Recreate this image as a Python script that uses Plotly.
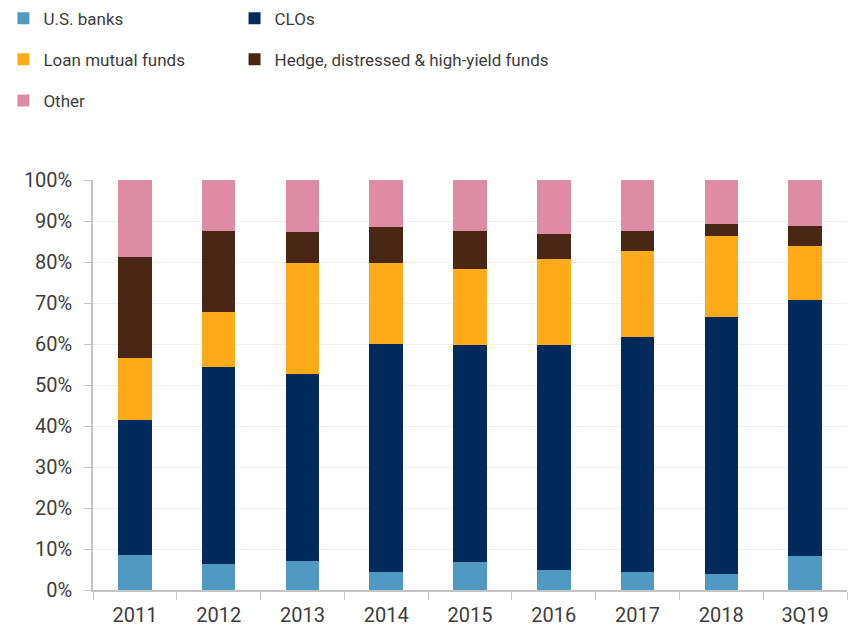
import plotly.graph_objects as go

# Share of leveraged loan holdings by investor type
periods = ["2011", "2012", "2013", "2014", "2015", "2016", "2017", "2018", "3Q19"]

us_banks = [8.5, 6.3, 7.0, 4.3, 6.8, 5.0, 4.3, 3.9, 8.3]
clos = [33.0, 48.1, 45.7, 55.8, 53.0, 54.8, 57.5, 62.6, 62.4]
loan_funds = [15.2, 13.5, 27.1, 19.7, 18.4, 20.9, 20.8, 19.8, 13.1]
hedge_funds = [24.4, 19.7, 7.5, 8.7, 9.4, 6.1, 5.0, 3.0, 5.1]
other = [18.9, 12.4, 12.7, 11.5, 12.4, 13.2, 12.4, 10.7, 11.1]

series = [
    ("U.S. banks", us_banks, "#4f99c3", "legend"),
    ("CLOs", clos, "#002b5c", "legend2"),
    ("Loan mutual funds", loan_funds, "#ffab19", "legend"),
    ("Hedge, distressed & high-yield funds", hedge_funds, "#4a2615", "legend2"),
    ("Other", other, "#de8ba6", "legend"),
]

FONT = "Roboto, 'Noto Sans', sans-serif"
TEXT = "#3d3d3d"
AXIS = "#c4c4c4"

fig = go.Figure()
for name, vals, color, leg in series:
    fig.add_trace(go.Bar(
        x=periods, y=vals, name=name,
        marker=dict(color=color, line=dict(width=0)),
        legend=leg, legendgroup=name,
    ))

# two stacked legend columns above the plot
legend_style = dict(
    orientation="v",
    xanchor="left", yanchor="top",
    xref="container", yref="container",
    bgcolor="rgba(0,0,0,0)",
    tracegroupgap=16,
    itemwidth=30,
    traceorder="grouped",
    font=dict(family=FONT, size=17, color=TEXT),
)

fig.update_layout(
    width=856, height=628,
    margin=dict(l=93, r=9, t=180, b=38, autoexpand=False),
    paper_bgcolor="white", plot_bgcolor="white",
    barmode="stack", bargap=0.6,
    font=dict(family=FONT, color=TEXT),
    legend=dict(legend_style, x=0.004, y=0.999),
    legend2=dict(legend_style, x=0.274, y=0.999),
    xaxis=dict(
        type="category",
        showline=True, linecolor=AXIS, linewidth=1.5,
        ticks="outside", tickson="boundaries", ticklen=8, tickcolor=AXIS,
        tickfont=dict(family=FONT, size=20, color=TEXT),
        ticklabelstandoff=6,
        showgrid=False,
    ),
    yaxis=dict(
        range=[0, 100], dtick=10, ticksuffix="%",
        showline=True, linecolor=AXIS, linewidth=1.5,
        ticks="outside", ticklen=7, tickcolor=AXIS,
        tickfont=dict(family=FONT, size=20, color=TEXT),
        ticklabelstandoff=8,
        showgrid=True, gridcolor="#efefef", gridwidth=1,
        zeroline=False,
    ),
)

fig.write_html("out.html")
